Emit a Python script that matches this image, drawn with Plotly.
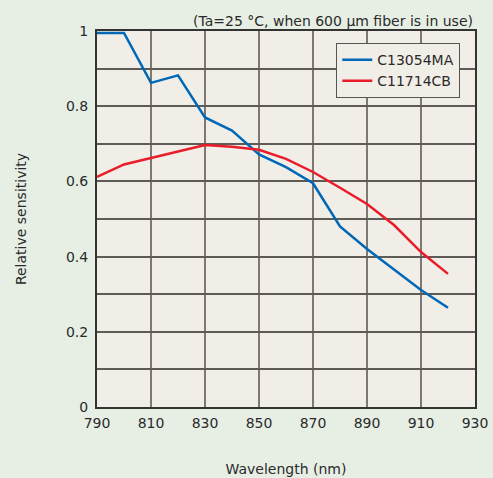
import plotly.graph_objects as go

wl_blue = [790, 800, 810, 820, 830, 840, 850, 860, 870, 880, 890, 900, 910, 920]
c13054ma = [0.995, 0.995, 0.862, 0.882, 0.770, 0.735, 0.672, 0.638, 0.595, 0.480, 0.420, 0.365, 0.311, 0.264]

wl_red = [790, 800, 810, 820, 830, 840, 850, 860, 870, 880, 890, 900, 910, 920]
c11714cb = [0.612, 0.645, 0.662, 0.680, 0.697, 0.692, 0.684, 0.660, 0.625, 0.583, 0.540, 0.484, 0.412, 0.354]

x_ticks = [790, 810, 830, 850, 870, 890, 910, 930]
y_grid = [0, 0.1, 0.2, 0.3, 0.4, 0.5, 0.6, 0.7, 0.8, 0.9, 1.0]
y_text = ["0", "", "0.2", "", "0.4", "", "0.6", "", "0.8", "", "1"]

FONT = "DejaVu Sans"
TXT = "#2a2a2a"

fig = go.Figure()
fig.add_trace(go.Scatter(x=wl_blue, y=c13054ma, mode="lines", name="C13054MA",
                         line=dict(color="#0068b7", width=2.5)))
fig.add_trace(go.Scatter(x=wl_red, y=c11714cb, mode="lines", name="C11714CB",
                         line=dict(color="#ea1c2a", width=2.5)))

fig.update_layout(
    width=493, height=478,
    margin=dict(l=97, r=18, t=31, b=71, autoexpand=False),
    paper_bgcolor="#e7efe5",
    plot_bgcolor="#f1eee7",
    font=dict(family=FONT, size=14, color=TXT),
    showlegend=True,
    legend=dict(x=0.633, y=0.968, xanchor="left", yanchor="top",
                bgcolor="#f1eee7", bordercolor="#555555", borderwidth=1,
                font=dict(family=FONT, size=14, color=TXT),
                tracegroupgap=0, itemwidth=30),
    annotations=[dict(text="(Ta=25 °C, when 600 µm fiber is in use)",
                      xref="paper", yref="paper", x=1.0, y=1.0,
                      xanchor="right", yanchor="bottom", yshift=0,
                      showarrow=False, font=dict(family=FONT, size=14, color=TXT))],
)
fig.update_xaxes(range=[790, 930], tickmode="array", tickvals=x_ticks,
                 showgrid=True, gridcolor="#7d7872", gridwidth=1.5,
                 showline=True, linecolor="#333333", linewidth=2, mirror=True,
                 ticks="", zeroline=False, ticklabelstandoff=2, automargin=False,
                 title=dict(text="Wavelength (nm)", standoff=34, font=dict(size=14)))
fig.update_yaxes(range=[0, 1], tickmode="array", tickvals=y_grid, ticktext=y_text,
                 showgrid=True, gridcolor="#5e5a55", gridwidth=1.5,
                 showline=True, linecolor="#333333", linewidth=2, mirror=True,
                 ticks="", zeroline=False, ticklabelstandoff=4, automargin=False,
                 title=dict(text="Relative sensitivity", standoff=36, font=dict(size=14)))

fig.write_html("out.html", config={"displayModeBar": False},
               post_script="document.body.style.margin='0';document.body.style.padding='0';")
